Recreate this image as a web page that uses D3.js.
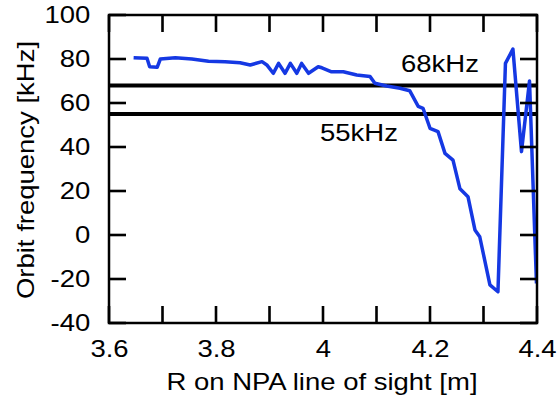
<!DOCTYPE html>
<html>
<head>
<meta charset="utf-8">
<script src="https://cdn.jsdelivr.net/npm/d3@7"></script>
<style>
  body { margin: 0; background: #fff; }
  text { font-family: Arial, "Liberation Sans", sans-serif; fill: #000; }
</style>
</head>
<body>
<div id="chart"></div>
<script>
// R along the NPA line of sight [m]
const rValues = [3.646, 3.671, 3.676, 3.690, 3.696, 3.724, 3.755, 3.786, 3.817, 3.845, 3.864,
  3.886, 3.895, 3.907, 3.917, 3.929, 3.939, 3.951, 3.960, 3.973, 3.991, 3.998, 4.016, 4.038,
  4.063, 4.088, 4.097, 4.119, 4.144, 4.162, 4.178, 4.187, 4.200, 4.215, 4.228, 4.243, 4.256,
  4.271, 4.284, 4.293, 4.312, 4.327, 4.341, 4.355, 4.371, 4.386, 4.399];
// orbit frequency [kHz]
const freqValues = [80.6, 80.3, 76.5, 76.2, 80.0, 80.6, 80.0, 79.0, 78.8, 78.3, 77.3,
  78.8, 77.3, 73.5, 78.0, 73.5, 78.0, 73.5, 78.0, 73.5, 76.5, 76.0, 74.2, 74.2,
  72.7, 72.0, 69.0, 67.7, 66.7, 65.6, 58.5, 57.6, 48.5, 47.0, 37.1, 34.0, 21.0,
  17.4, 2.3, -0.8, -22.7, -25.8, 78.0, 84.5, 37.9, 70.0, -22.0];
const refLines = [68, 55];
const refLabels = ['68kHz', '55kHz'];
const xTicks = [3.6, 3.7, 3.8, 3.9, 4.0, 4.1, 4.2, 4.3, 4.4];
const xLabels = ['3.6', '', '3.8', '', '4', '', '4.2', '', '4.4'];
const yTicks = [-40, -20, 0, 20, 40, 60, 80, 100];

const width = 557, height = 405;
const margin = { top: 15, right: 20, bottom: 82, left: 109 };
const w = width - margin.left - margin.right;
const h = height - margin.top - margin.bottom;
const fontSize = 23.5;
const sx = 1.17; // text in the figure is a bit wide

const svg = d3.select('#chart').append('svg')
  .attr('width', width)
  .attr('height', height);

const g = svg.append('g')
  .attr('transform', `translate(${margin.left},${margin.top})`);

const x = d3.scaleLinear().domain([3.6, 4.4]).range([0, w]);
const y = d3.scaleLinear().domain([-40, 100]).range([h, 0]);

const data = rValues.map((r, i) => ({ r, f: freqValues[i] }));

svg.append('defs').append('clipPath').attr('id', 'clip')
  .append('rect').attr('width', w).attr('height', h);

// reference lines
g.selectAll('.ref')
  .data(refLines)
  .enter().append('line')
  .attr('class', 'ref')
  .attr('x1', 0).attr('x2', w)
  .attr('y1', d => y(d)).attr('y2', d => y(d))
  .attr('stroke', '#000')
  .attr('stroke-width', 4);

// data line
g.append('path')
  .datum(data)
  .attr('clip-path', 'url(#clip)')
  .attr('fill', 'none')
  .attr('stroke', '#1538e3')
  .attr('stroke-width', 3.5)
  .attr('stroke-linejoin', 'round')
  .attr('d', d3.line().x(d => x(d.r)).y(d => y(d.f)));

// inward ticks on all four sides, drawn as thin rects
const tickLen = 17, tw = 2.6;
const ticks = g.append('g').attr('fill', '#000');
ticks.selectAll('.xb').data(xTicks).enter().append('rect')
  .attr('x', d => x(d) - tw / 2).attr('y', h - tickLen).attr('width', tw).attr('height', tickLen);
ticks.selectAll('.xt').data(xTicks).enter().append('rect')
  .attr('x', d => x(d) - tw / 2).attr('y', 0).attr('width', tw).attr('height', tickLen);
ticks.selectAll('.yl').data(yTicks).enter().append('rect')
  .attr('y', d => y(d) - tw / 2).attr('x', 0).attr('height', tw).attr('width', tickLen);
ticks.selectAll('.yr').data(yTicks).enter().append('rect')
  .attr('y', d => y(d) - tw / 2).attr('x', w - tickLen).attr('height', tw).attr('width', tickLen);

// tick labels from the axes
const styleAxis = sel => {
  sel.select('.domain').remove();
  sel.selectAll('.tick line').remove();
  sel.selectAll('text')
    .style('font-size', fontSize + 'px')
    .attr('fill', '#000')
    .attr('transform', `scale(${sx},1)`);
};

g.append('g')
  .attr('transform', `translate(0,${h})`)
  .call(d3.axisBottom(x).tickValues(xTicks).tickSize(0).tickPadding(17)
    .tickFormat((d, i) => xLabels[i]))
  .call(styleAxis);

g.append('g')
  .call(d3.axisLeft(y).tickValues(yTicks).tickSize(0).tickPadding(16)
    .tickFormat(d => String(d)))
  .call(styleAxis);

// frame
g.append('rect')
  .attr('width', w).attr('height', h)
  .attr('fill', 'none')
  .attr('stroke', '#000')
  .attr('stroke-width', 2.5);

const label = (parent, tx, ty, txt, rot) => parent.append('text')
  .attr('transform', `translate(${tx},${ty})${rot ? ' rotate(-90)' : ''} scale(${sx},1)`)
  .attr('text-anchor', 'middle')
  .style('font-size', fontSize + 'px')
  .text(txt);

// reference labels
label(svg, 440, 72, refLabels[0]);
label(svg, 359, 141, refLabels[1]);

// axis titles
label(svg, margin.left + w / 2 - 1, 390, 'R on NPA line of sight [m]');
label(svg, 34, margin.top + h / 2 + 1, 'Orbit frequency [kHz]', true);
</script>
</body>
</html>
